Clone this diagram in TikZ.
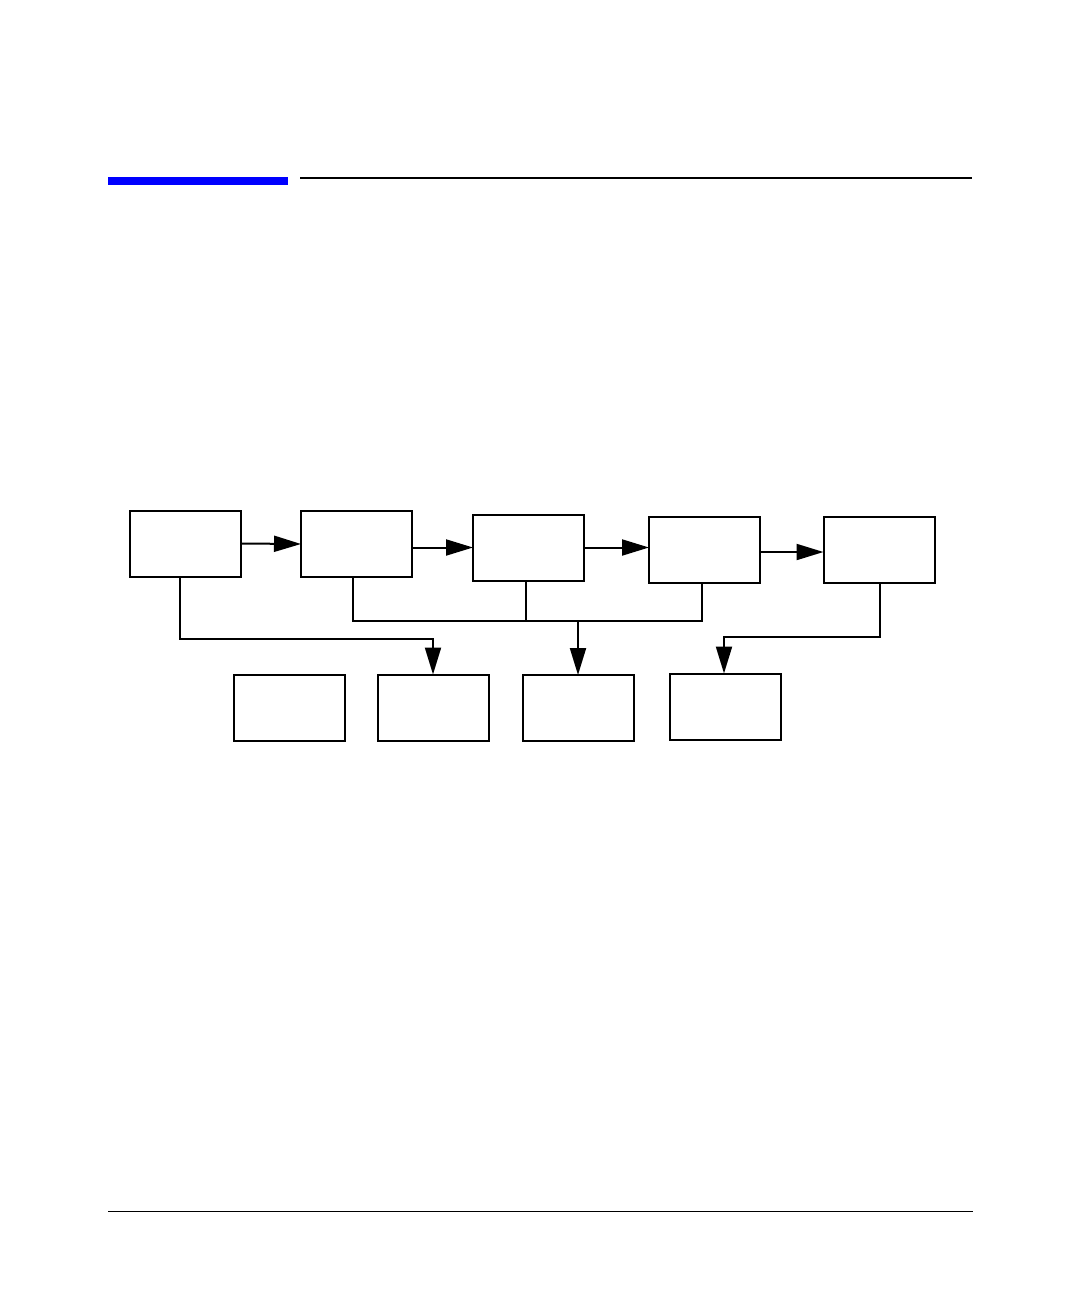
\documentclass[tikz,border=0pt]{standalone}
\usetikzlibrary{arrows.meta}
\begin{document}
\begin{tikzpicture}[x=1pt,y=-1pt,
  box/.style={draw,line width=2pt,minimum width=111pt,minimum height=66pt,inner sep=0pt,outer sep=0pt},
  conn/.style={line width=2pt},
  arr/.style={line width=2pt,-{Triangle[length=27pt,width=16pt]}}]
\useasboundingbox (0,0) rectangle (1080,1296);
% header rules
\fill[blue] (108,177) rectangle (288,185);
\draw[line width=2pt] (300,178) -- (972,178);
\draw[line width=1pt] (108,1211) -- (973,1211);
% top row
\node[box] (A) at (185,543.5) {};
\node[box] (B) at (356.5,544) {};
\node[box] (C) at (528.5,547.5) {};
\node[box] (D) at (704.5,550) {};
\node[box] (E) at (879,550) {};
% bottom row
\node[box] (F) at (289,707.5) {};
\node[box] (G) at (433,707.5) {};
\node[box] (H) at (578,708) {};
\node[box] (I) at (725,706.5) {};
% horizontal arrows
\draw[arr] (A.east) -- (B.west);
\draw[arr] (B.east |- C.west) -- (C.west);
\draw[arr] (C.east) -- (C.east -| D.west);
\draw[arr] ([yshift=-2pt]D.east) -- ([yshift=-2pt]E.west);
% A to G
\draw[arr] ([xshift=-5pt]A.south) -- ++(0,62) -| (G.north);
% bus B, C, D to H
\coordinate (bus) at (578,621);
\draw[conn] ([xshift=-3.5pt]B.south) |- (bus) -| ([xshift=-2.5pt]D.south);
\draw[conn] ([xshift=-2.5pt]C.south) -- ([xshift=-2.5pt]C.south |- bus);
\draw[arr] (bus) -- (H.north);
% E to I
\draw[arr] ([xshift=1pt]E.south) -- ++(0,54) -| ([xshift=-1pt]I.north);
\end{tikzpicture}
\end{document}
